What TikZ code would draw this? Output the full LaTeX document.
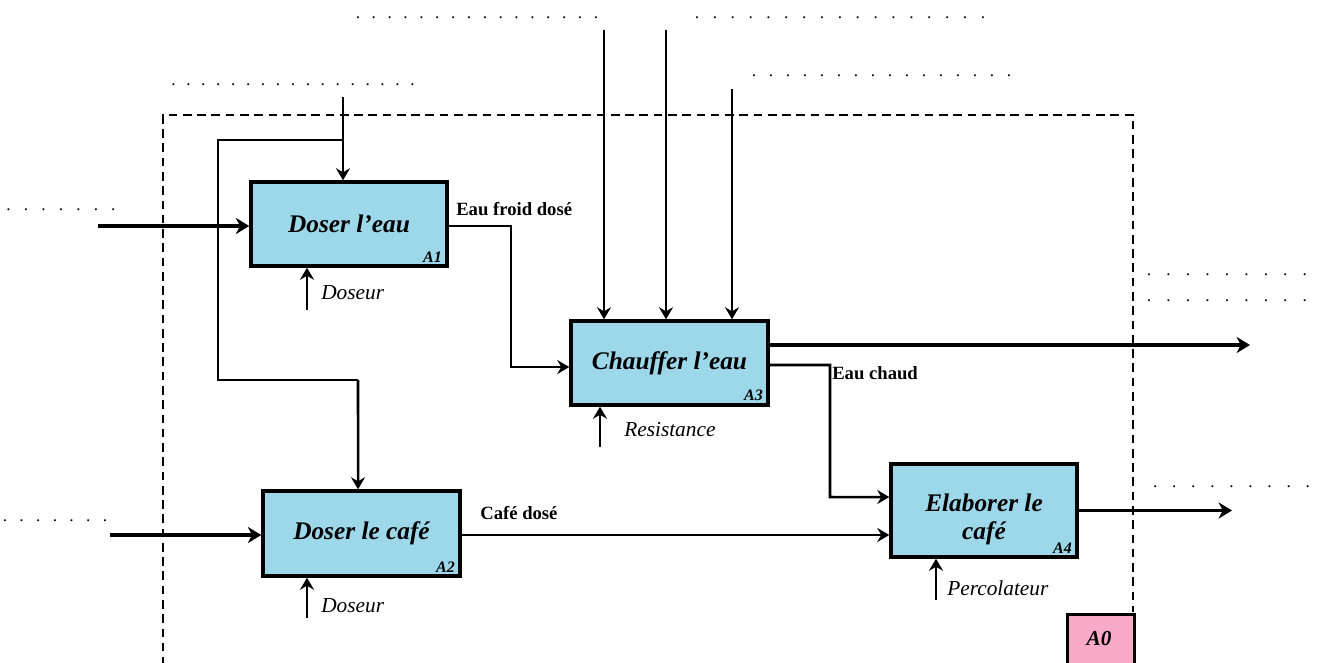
\documentclass[tikz,border=0pt]{standalone}
\usepackage{fontspec}
\setmainfont{Liberation Serif}
\usetikzlibrary{arrows.meta,calc}
\definecolor{boxblue}{HTML}{9DD8EA}
\definecolor{tagpink}{HTML}{F9AAC8}
\newcommand\dotrow[2]{\foreach \k in {1,...,#1}{\makebox[#2][c]{.}}}
\begin{document}
\begin{tikzpicture}[x=0.75pt,y=-0.75pt,
  proc/.style={draw, line width=2.6pt, fill=boxblue, inner sep=0pt, align=center,
    font=\fontsize{19}{21}\selectfont\bfseries\itshape},
  tag/.style={inner sep=0pt, font=\fontsize{12}{13}\selectfont\bfseries\itshape, anchor=south east},
  flow/.style={line width=1.9pt, -{Stealth[length=9pt,width=10.5pt,inset=3pt]}},
  thickflow/.style={line width=2.8pt, -{Stealth[length=10pt,width=12pt,inset=3pt]}},
  plain/.style={line width=1.9pt},
  frame/.style={line width=2.1pt, dash pattern=on 6.5pt off 4.2pt},
  blab/.style={inner sep=0pt, anchor=west, font=\fontsize{14}{16}\selectfont\bfseries},
  ilab/.style={inner sep=0pt, anchor=west, font=\fontsize{16}{18}\selectfont\itshape},
  dots/.style={inner sep=0pt, anchor=base, font=\fontsize{13}{15}\selectfont}
]
\clip (0,0) rectangle (1319,662);
\fill[white] (0,0) rectangle (1319,662);

% frame
\draw[frame] (163,680) -- (163,115) -- (1133,115) -- (1133,612);

% A0 tag
\node[draw, line width=2.6pt, fill=tagpink, minimum width=50.25pt, minimum height=50pt,
  inner sep=0pt, anchor=north west] (A0box) at (1066,613) {};
\node[inner sep=0pt, font=\fontsize{16}{18}\selectfont\bfseries\itshape] (A0) at (1099,638) {A0};

% process boxes
\node[proc, minimum width=147pt, minimum height=63pt] (A1) at (349,224) {Doser l’eau};
\node[proc, minimum width=147.75pt, minimum height=63pt] (A3) at (669.5,363) {Chauffer l’eau};
\node[proc, minimum width=147.75pt, minimum height=63.75pt] (A2) at (361.5,533.5) {Doser le café};
\node[proc, minimum width=139.5pt, minimum height=69.75pt] (A4) at (984,510.5)
  {\raisebox{-11.5pt}[0pt][0pt]{\begin{tabular}{@{}c@{}}Elaborer le\\café\end{tabular}}};

\node[tag] (t1) at ([shift={(-5pt,4pt)}]A1.south east) {A1};
\node[tag] (t3) at ([shift={(-5pt,4pt)}]A3.south east) {A3};
\node[tag] (t2) at ([shift={(-5pt,4pt)}]A2.south east) {A2};
\node[tag] (t4) at ([shift={(-5pt,4pt)}]A4.south east) {A4};

% coordinates for free ends
\coordinate (i1) at (98,226);
\coordinate (i2) at (110,535);
\coordinate (c1) at (343,97);
\coordinate (j1) at (343,140);
\coordinate (c3a) at (604,30);
\coordinate (c3b) at (666,30);
\coordinate (c3c) at (732,89);
\coordinate (m1) at (307,310);
\coordinate (m2) at (307,618);
\coordinate (m3) at (600,447);
\coordinate (m4) at (936,600);
\coordinate (o3) at (1250,345);
\coordinate (o4) at (1232,510.5);

% inputs
\draw[thickflow] (i1) -- (i1 -| A1.west);
\draw[thickflow] (i2) -- (i2 -| A2.west);

% controls
\draw[flow] (c1) -- (c1 |- A1.north);
\draw[plain] (j1) -- (218,140) -- (218,380) -- (358,380);
\draw[flow] (358,380) -- ([xshift=-2.6pt]A2.north);
\draw[flow, line width=2.2pt] (c3a) -- (c3a |- A3.north);
\draw[flow, line width=2.1pt] (c3b) -- (c3b |- A3.north);
\draw[flow, line width=1.8pt] (c3c) -- (c3c |- A3.north);

% mechanisms
\draw[flow] (m1) -- (m1 |- A1.south);
\draw[flow] (m2) -- (m2 |- A2.south);
\draw[flow] (m3) -- (m3 |- A3.south);
\draw[flow] (m4) -- (m4 |- A4.south);

% internal flows
\draw[flow] ([yshift=-1.5pt]A1.east) -- (511,226) -- (511,367) -- ([yshift=-3pt]A3.west);
\draw[flow] ([yshift=-1.5pt]A3.east) -- (830,365) -- (830,497) -- ([yshift=10.1pt]A4.west);
\draw[flow] ([yshift=-1.1pt]A2.east) -- ([yshift=-1.1pt]A4.west |- A2.east);

% outputs
\draw[thickflow] (A3.east |- o3) -- (o3);
\draw[thickflow] (A4.east) -- (o4);

% labels
\node[blab] (l1) at (456,209) {Eau froid dosé};
\node[blab] (l2) at (832,373) {Eau chaud};
\node[blab] (l3) at (480,513) {Café dosé};
\node[ilab] (l4) at (321,293) {Doseur};
\node[ilab] (l5) at (321,606) {Doseur};
\node[ilab] (l6) at (624,430) {Resistance};
\node[ilab] (l7) at (947,588) {Percolateur};

% dotted placeholders
\node[dots] (d1) at (477,18) {\dotrow{16}{11.9pt}};
\node[dots] (d2) at (840,18) {\dotrow{17}{13.4pt}};
\node[dots] (d3) at (881.5,76) {\dotrow{16}{12.75pt}};
\node[dots] (d4) at (293,85) {\dotrow{17}{11.2pt}};
\node[dots] (d5) at (61,210) {\dotrow{7}{13.1pt}};
\node[dots] (d6) at (55,521) {\dotrow{7}{12.5pt}};
\node[dots] (d7) at (1227,275) {\dotrow{9}{14.6pt}};
\node[dots] (d8) at (1227,301) {\dotrow{9}{14.6pt}};
\node[dots] (d9) at (1231.5,487) {\dotrow{9}{14.3pt}};
\end{tikzpicture}
\end{document}
